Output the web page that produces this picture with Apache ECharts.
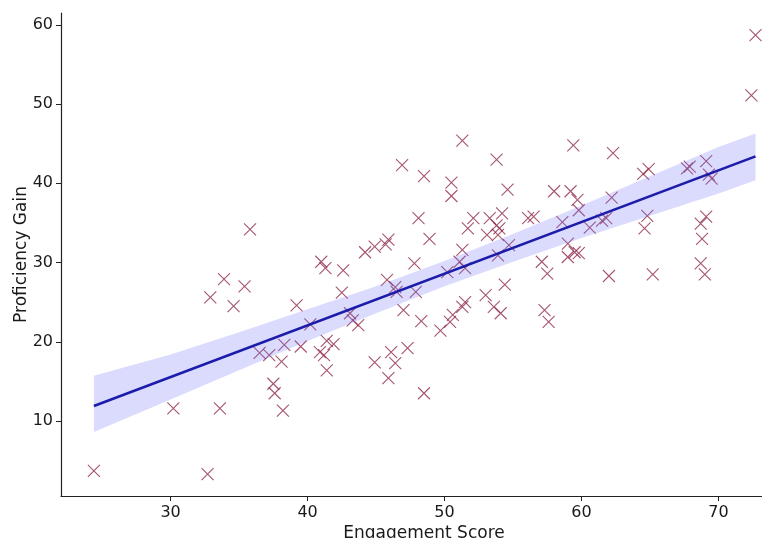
<!DOCTYPE html>
<html>
<head>
<meta charset="utf-8">
<script src="https://cdn.jsdelivr.net/npm/echarts@6/dist/echarts.min.js"></script>
<style>html,body{margin:0;padding:0;background:#fff;overflow:hidden}#c{width:762px;height:538px}</style>
</head>
<body>
<div id="c"></div>
<script>
// Scatter data: Engagement Score (x) and Proficiency Gain (y)
const engagement = [24.4,30.2,32.7,32.9,33.6,33.9,34.6,35.4,35.8,36.5,37.2,37.5,37.6,38.1,38.2,38.3,39.2,39.5,40.2,40.9,41.2,41.4,41.9,41.4,41.0,41.3,42.6,42.5,43.1,43.3,43.7,44.2,44.9,45.7,45.9,44.9,46.1,46.4,45.9,47.3,45.8,46.4,46.5,47.9,47.8,47.0,48.3,46.9,48.5,48.1,48.9,48.5,49.7,50.4,50.6,50.2,51.1,51.5,51.3,51.3,50.5,50.5,51.7,52.1,51.5,51.3,53.0,53.3,53.8,54.0,53.9,53.1,54.2,53.8,54.6,54.7,53.9,54.4,53.6,54.1,56.1,56.5,57.1,57.5,57.3,57.6,58.0,59.2,59.7,59.8,59.4,58.6,59.0,59.0,59.5,59.8,60.6,61.5,61.8,62.2,62.3,62.0,64.5,64.9,64.8,64.6,65.2,67.7,67.9,69.1,69.3,69.5,69.1,68.7,68.8,68.7,69.0,72.4,72.7];
const proficiency = [3.7,11.6,3.3,25.6,11.6,27.9,24.5,27.0,34.2,18.6,18.3,14.7,13.5,17.5,11.3,19.6,24.6,19.4,22.2,18.7,18.3,20.1,19.7,16.4,30.1,29.3,29.0,26.2,23.6,22.7,22.1,31.3,32.0,32.3,32.9,17.4,18.7,17.3,15.4,19.2,27.8,26.9,26.3,26.3,29.9,24.0,22.6,42.3,40.9,35.6,33.0,13.5,21.4,22.5,23.4,28.8,30.1,29.3,31.6,45.4,40.1,38.4,34.3,35.6,25.0,24.4,25.9,35.6,34.7,34.3,33.5,33.5,36.2,43.0,39.2,32.2,30.9,27.2,24.4,23.6,35.6,35.8,30.1,28.6,24.0,22.5,39.0,39.0,37.9,36.6,44.8,35.1,32.4,30.7,31.3,31.2,34.4,35.3,35.6,38.2,43.8,28.3,41.2,41.8,35.9,34.3,28.5,41.9,42.1,42.8,41.1,40.6,35.8,34.9,33.0,29.9,28.5,51.1,58.7];

// Fitted regression line (endpoints)
const fitX = [24.4, 72.7];
const fitY = [11.9, 43.4];

// Confidence band
const bandX     = [24.4, 30,   35,   40,   45,   50,   55,   60,   65,   70,   72.7];
const bandUpper = [15.7, 18.4, 21.2, 24.1, 27.0, 30.2, 33.6, 37.2, 40.9, 44.6, 46.3];
const bandLower = [8.6,  12.7, 16.4, 20.1, 23.6, 27.0, 30.1, 33.1, 35.9, 38.7, 40.4];

const xTicks = [30, 40, 50, 60, 70];
const yTicks = [10, 20, 30, 40, 50, 60];

const scatterData = engagement.map((x, i) => [x, proficiency[i]]);
const fitData = fitX.map((x, i) => [x, fitY[i]]);

const font = 'DejaVu Sans';
const txt = '#1a1a1a';
const chart = echarts.init(document.getElementById('c'), null, {renderer: 'canvas'});
chart.setOption({
  animation: false,
  backgroundColor: '#fff',
  grid: {left: 61, right: -25, top: 13, bottom: 42, containLabel: false, outerBoundsMode: 'none'},
  xAxis: {
    type: 'value', min: 22.0, max: 75.0,
    name: 'Engagement Score', nameLocation: 'middle', nameGap: 29, nameMoveOverlap: false,
    nameTextStyle: {fontFamily: font, fontSize: 17, color: txt},
    splitLine: {show: false},
    axisLine: {show: true, onZero: false, lineStyle: {color: '#222', width: 1.2}},
    axisTick: {show: true, length: 5, inside: false, customValues: xTicks, lineStyle: {color: '#222', width: 1}},
    axisLabel: {customValues: xTicks, margin: 9, fontFamily: font, fontSize: 16, color: txt}
  },
  yAxis: {
    type: 'value', min: 0.53, max: 61.5,
    name: 'Proficiency Gain', nameLocation: 'middle', nameGap: 31, nameMoveOverlap: false,
    nameTextStyle: {fontFamily: font, fontSize: 17, color: txt},
    splitLine: {show: false},
    axisLine: {show: true, onZero: false, lineStyle: {color: '#222', width: 1.2}},
    axisTick: {show: true, length: 5, inside: false, customValues: yTicks, lineStyle: {color: '#222', width: 1}},
    axisLabel: {customValues: yTicks, margin: 8, fontFamily: font, fontSize: 16, color: txt}
  },
  series: [
    {
      type: 'scatter',
      data: scatterData,
      symbol: 'path://M0,0 L10,10 M10,0 L0,10',
      symbolSize: 12,
      itemStyle: {color: 'rgba(0,0,0,0)', borderColor: '#8e2b47', borderWidth: 1.1},
      z: 2
    },
    {
      type: 'custom',
      data: [[bandX[0], bandUpper[0]]],
      renderItem: function (params, api) {
        const pts = [];
        for (let i = 0; i < bandX.length; i++) pts.push(api.coord([bandX[i], bandUpper[i]]));
        for (let i = bandX.length - 1; i >= 0; i--) pts.push(api.coord([bandX[i], bandLower[i]]));
        return {type: 'polygon', shape: {points: pts}, style: {fill: 'rgba(110,110,250,0.25)'}};
      },
      silent: true,
      z: 3
    },
    {
      type: 'line',
      data: fitData,
      symbol: 'none',
      lineStyle: {color: '#1c1caa', width: 2.6},
      z: 4
    }
  ]
});
</script>
</body>
</html>
